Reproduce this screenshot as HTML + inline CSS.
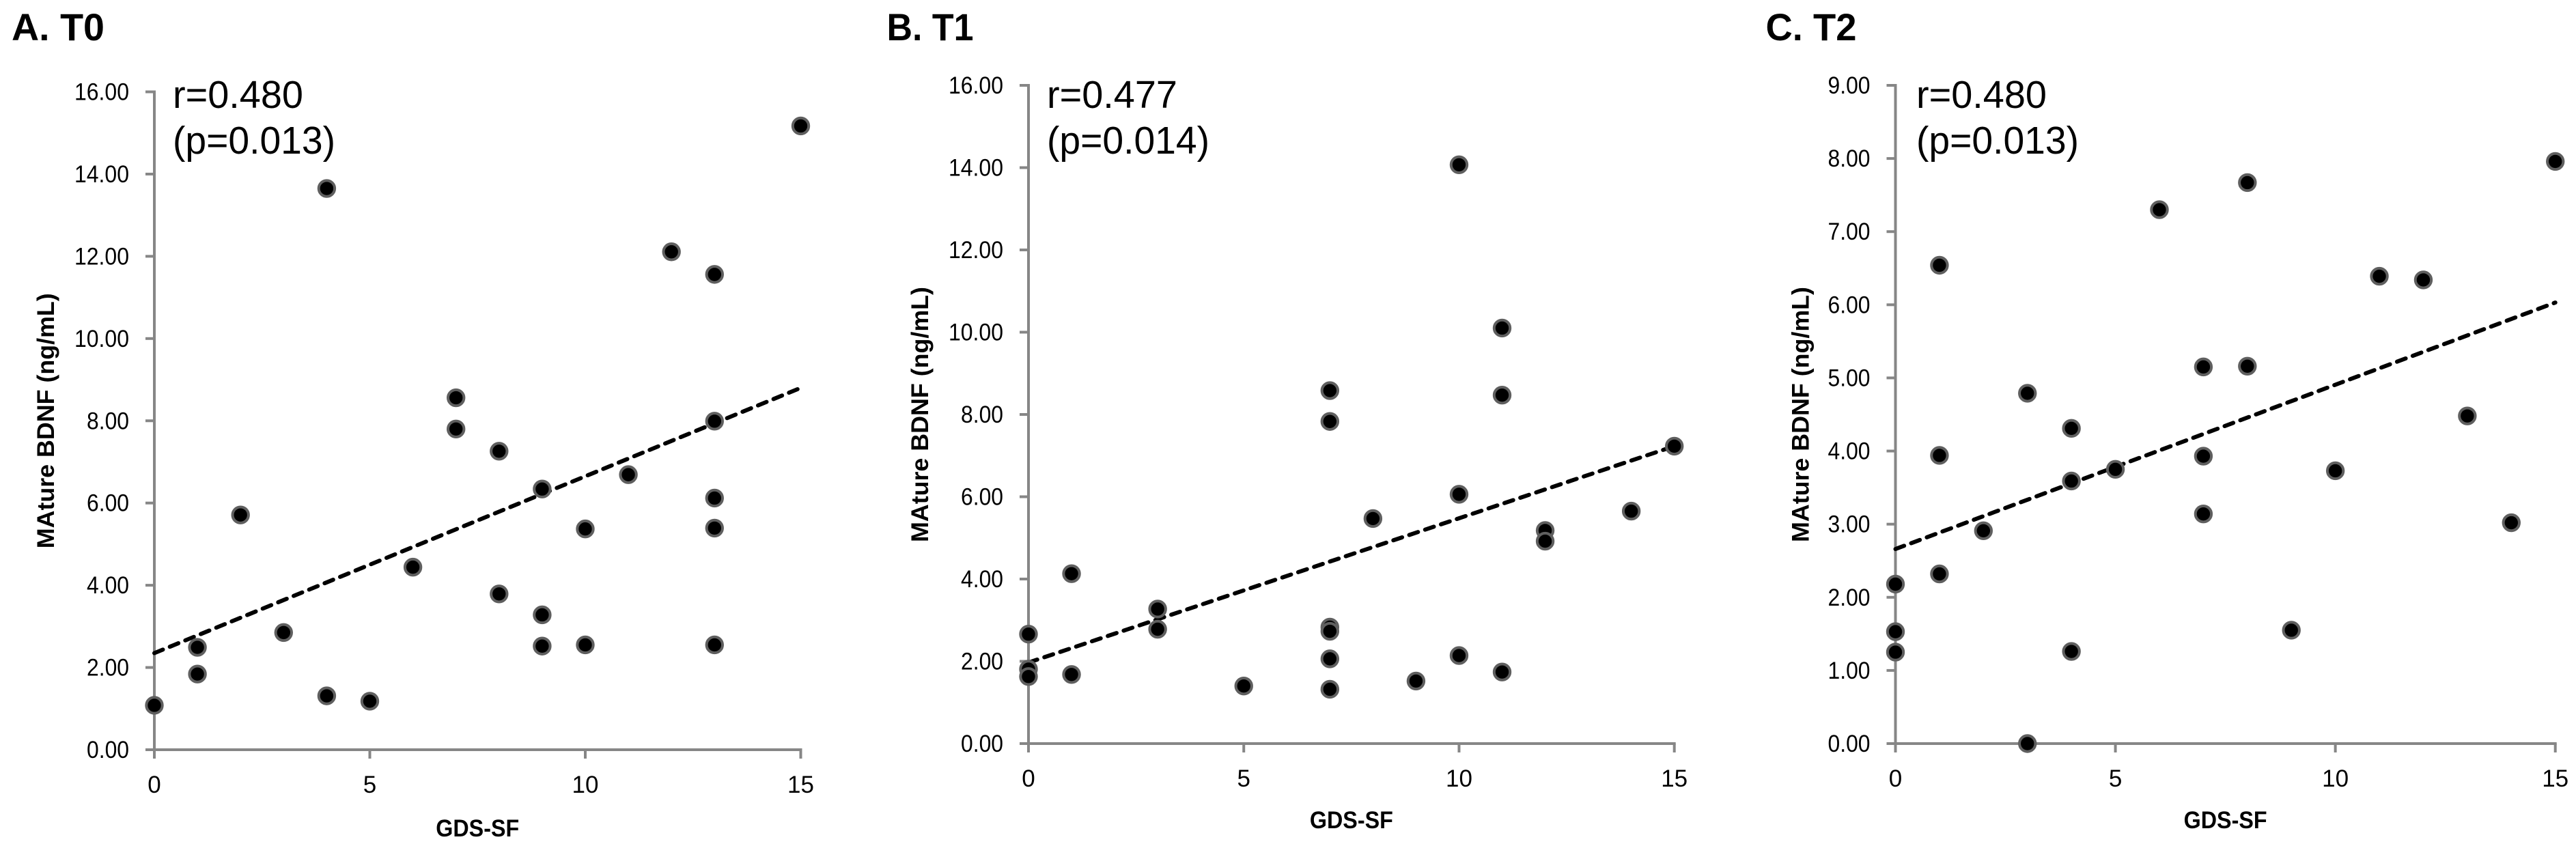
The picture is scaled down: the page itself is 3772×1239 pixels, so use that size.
<!DOCTYPE html>
<html lang="en">
<head>
<meta charset="utf-8">
<title>Mature BDNF vs GDS-SF</title>
<style>
html,body{margin:0;padding:0;background:#fff;width:3772px;height:1239px;overflow:hidden}
svg{display:block}
text{font-family:"Liberation Sans",sans-serif;fill:#000}
.b{font-weight:700}
</style>
</head>
<body>
<svg id="figure" xmlns="http://www.w3.org/2000/svg" width="3772" height="1239" viewBox="0 0 3772 1239"></svg>
<script>
const xTickValues = [0, 5, 10, 15];
const yTicksA = ['0.00','2.00','4.00','6.00','8.00','10.00','12.00','14.00','16.00'];
const yTicksB = ['0.00','2.00','4.00','6.00','8.00','10.00','12.00','14.00','16.00'];
const yTicksC = ['0.00','1.00','2.00','3.00','4.00','5.00','6.00','7.00','8.00','9.00'];

const gdsA = [0,1,1,2,3,4,4,5,6,7,7,8,8,9,9,9,10,10,11,12,13,13,13,13,13,15];
const bdnfA = [1.08,2.49,1.84,5.71,2.85,13.65,1.31,1.18,4.44,8.56,7.80,7.26,3.79,6.34,3.28,2.52,5.37,2.55,6.69,12.11,11.56,7.99,6.12,5.39,2.55,15.17];
const trendA = [2.35, 8.80];

const gdsB = [0,0,0,1,1,3,3,5,7,7,7,7,7,7,8,9,10,10,10,11,11,11,12,12,14,15];
const bdnfB = [2.66,1.81,1.63,4.13,1.68,3.27,2.78,1.40,8.58,7.83,2.83,2.73,2.06,1.32,5.47,1.52,14.07,6.06,2.14,10.10,8.47,1.74,5.18,4.92,5.65,7.23];
const trendB = [1.97, 7.23];

const gdsC = [0,0,0,1,1,1,2,3,3,4,4,4,5,6,7,7,7,8,8,9,10,11,12,13,14,15];
const bdnfC = [2.18,1.53,1.25,6.54,3.94,2.32,2.91,4.79,0,4.31,3.59,1.26,3.75,7.30,5.15,3.93,3.14,7.67,5.16,1.55,3.73,6.39,6.34,4.48,3.02,7.96];
const trendC = [2.66, 6.03];

const NS = 'http://www.w3.org/2000/svg';
const fig = document.getElementById('figure');
const AXIS = '#868686', RING = '#5f5f5f';

function mk(parent, tag, attrs, txt) {
  const e = document.createElementNS(NS, tag);
  for (const k in attrs) e.setAttribute(k, attrs[k]);
  if (txt !== undefined) e.textContent = txt;
  parent.appendChild(e);
  return e;
}

function drawPanel(p) {
  const g = mk(fig, 'g', {});
  
  

  const sx = v => p.x0 + (v - 0) / 15 * (p.x1 - p.x0);
  const yMax = Number(p.yTicks[p.yTicks.length - 1]);
  const sy = v => p.y0 - v / yMax * (p.y0 - p.y1);

  const title = mk(g, 'text', {x: p.titleX, y: 59, 'font-size': 56, class: 'b', textLength: p.titleW, lengthAdjust: 'spacingAndGlyphs'}, p.title);
  
  

  const yAxis = mk(g, 'line', {x1: p.x0, x2: p.x0, y1: sy(yMax) - 2, y2: p.y0 + 13, stroke: AXIS, 'stroke-width': 4});
  
  

  const xAxis = mk(g, 'line', {x1: p.x0 - 13, x2: p.x1 + 2, y1: p.y0, y2: p.y0, stroke: AXIS, 'stroke-width': 4});
  
  

  p.yTicks.forEach(lbl => {
    const v = Number(lbl), y = sy(v);
    const t = mk(g, 'line', {x1: p.x0 - 13, x2: p.x0, y1: y, y2: y, stroke: AXIS, 'stroke-width': 4});
    
    
    const w = lbl.length === 5 ? 80 : 62;
    const l = mk(g, 'text', {x: p.x0 - 37 - w, y: y + 12, 'font-size': 35, textLength: w, lengthAdjust: 'spacingAndGlyphs'}, lbl);
    
    
  });

  xTickValues.forEach(v => {
    const x = sx(v);
    const t = mk(g, 'line', {x1: x, x2: x, y1: p.y0, y2: p.y0 + 13, stroke: AXIS, 'stroke-width': 4});
    
    
    const l = mk(g, 'text', {x: x, y: p.y0 + 63, 'font-size': 35, 'text-anchor': 'middle'}, String(v));
    
    
  });

  const cx = (p.x0 + p.x1) / 2, cy = (p.y0 + p.y1) / 2;
  const xt = mk(g, 'text', {x: cx, y: p.xTitleY, 'font-size': 35, class: 'b', 'text-anchor': 'middle', textLength: 122, lengthAdjust: 'spacingAndGlyphs'}, 'GDS-SF');
  
  

  const yt = mk(g, 'text', {x: 0, y: 0, 'font-size': 35, class: 'b', 'text-anchor': 'middle', textLength: 374, lengthAdjust: 'spacingAndGlyphs', transform: 'translate(' + (p.x0 + p.yTitleDx) + ' ' + cy + ') rotate(-90)'}, 'MAture BDNF (ng/mL)');
  
  

  const tr = mk(g, 'line', {x1: sx(0), x2: sx(15), y1: sy(p.trend[0]), y2: sy(p.trend[1]), stroke: '#000', 'stroke-width': 6, 'stroke-dasharray': '13.5 11', 'stroke-linecap': 'round'});
  
  

  p.xs.forEach((xv, i) => {
    const c = mk(g, 'circle', {cx: sx(xv), cy: sy(p.ys[i]), r: 11.7, fill: '#000', stroke: RING, 'stroke-width': 4});
    
    
  });

  const r1 = mk(g, 'text', {x: p.statX, y: 158, 'font-size': 57, textLength: 191, lengthAdjust: 'spacingAndGlyphs'}, p.stat1);
  
  
  const r2 = mk(g, 'text', {x: p.statX, y: 225, 'font-size': 57, textLength: 238, lengthAdjust: 'spacingAndGlyphs'}, p.stat2);
  
  
}

drawPanel({key:'a', title:'A. T0', titleX:17, titleW:136, x0:226, x1:1172.5, y0:1098, y1:134.5, xTitleY:1225, yTitleDx:-147, statX:253, stat1:'r=0.480', stat2:'(p=0.013)', xs:gdsA, ys:bdnfA, trend:trendA, yTicks:yTicksA});
drawPanel({key:'b', title:'B. T1', titleX:1298.5, titleW:127, x0:1506, x1:2451.7, y0:1089, y1:125, xTitleY:1213, yTitleDx:-147, statX:1533, stat1:'r=0.477', stat2:'(p=0.014)', xs:gdsB, ys:bdnfB, trend:trendB, yTicks:yTicksB});
drawPanel({key:'c', title:'C. T2', titleX:2585.5, titleW:133, x0:2775.5, x1:3741.7, y0:1089, y1:125, xTitleY:1213, yTitleDx:-127, statX:2806, stat1:'r=0.480', stat2:'(p=0.013)', xs:gdsC, ys:bdnfC, trend:trendC, yTicks:yTicksC});
</script>
</body>
</html>
